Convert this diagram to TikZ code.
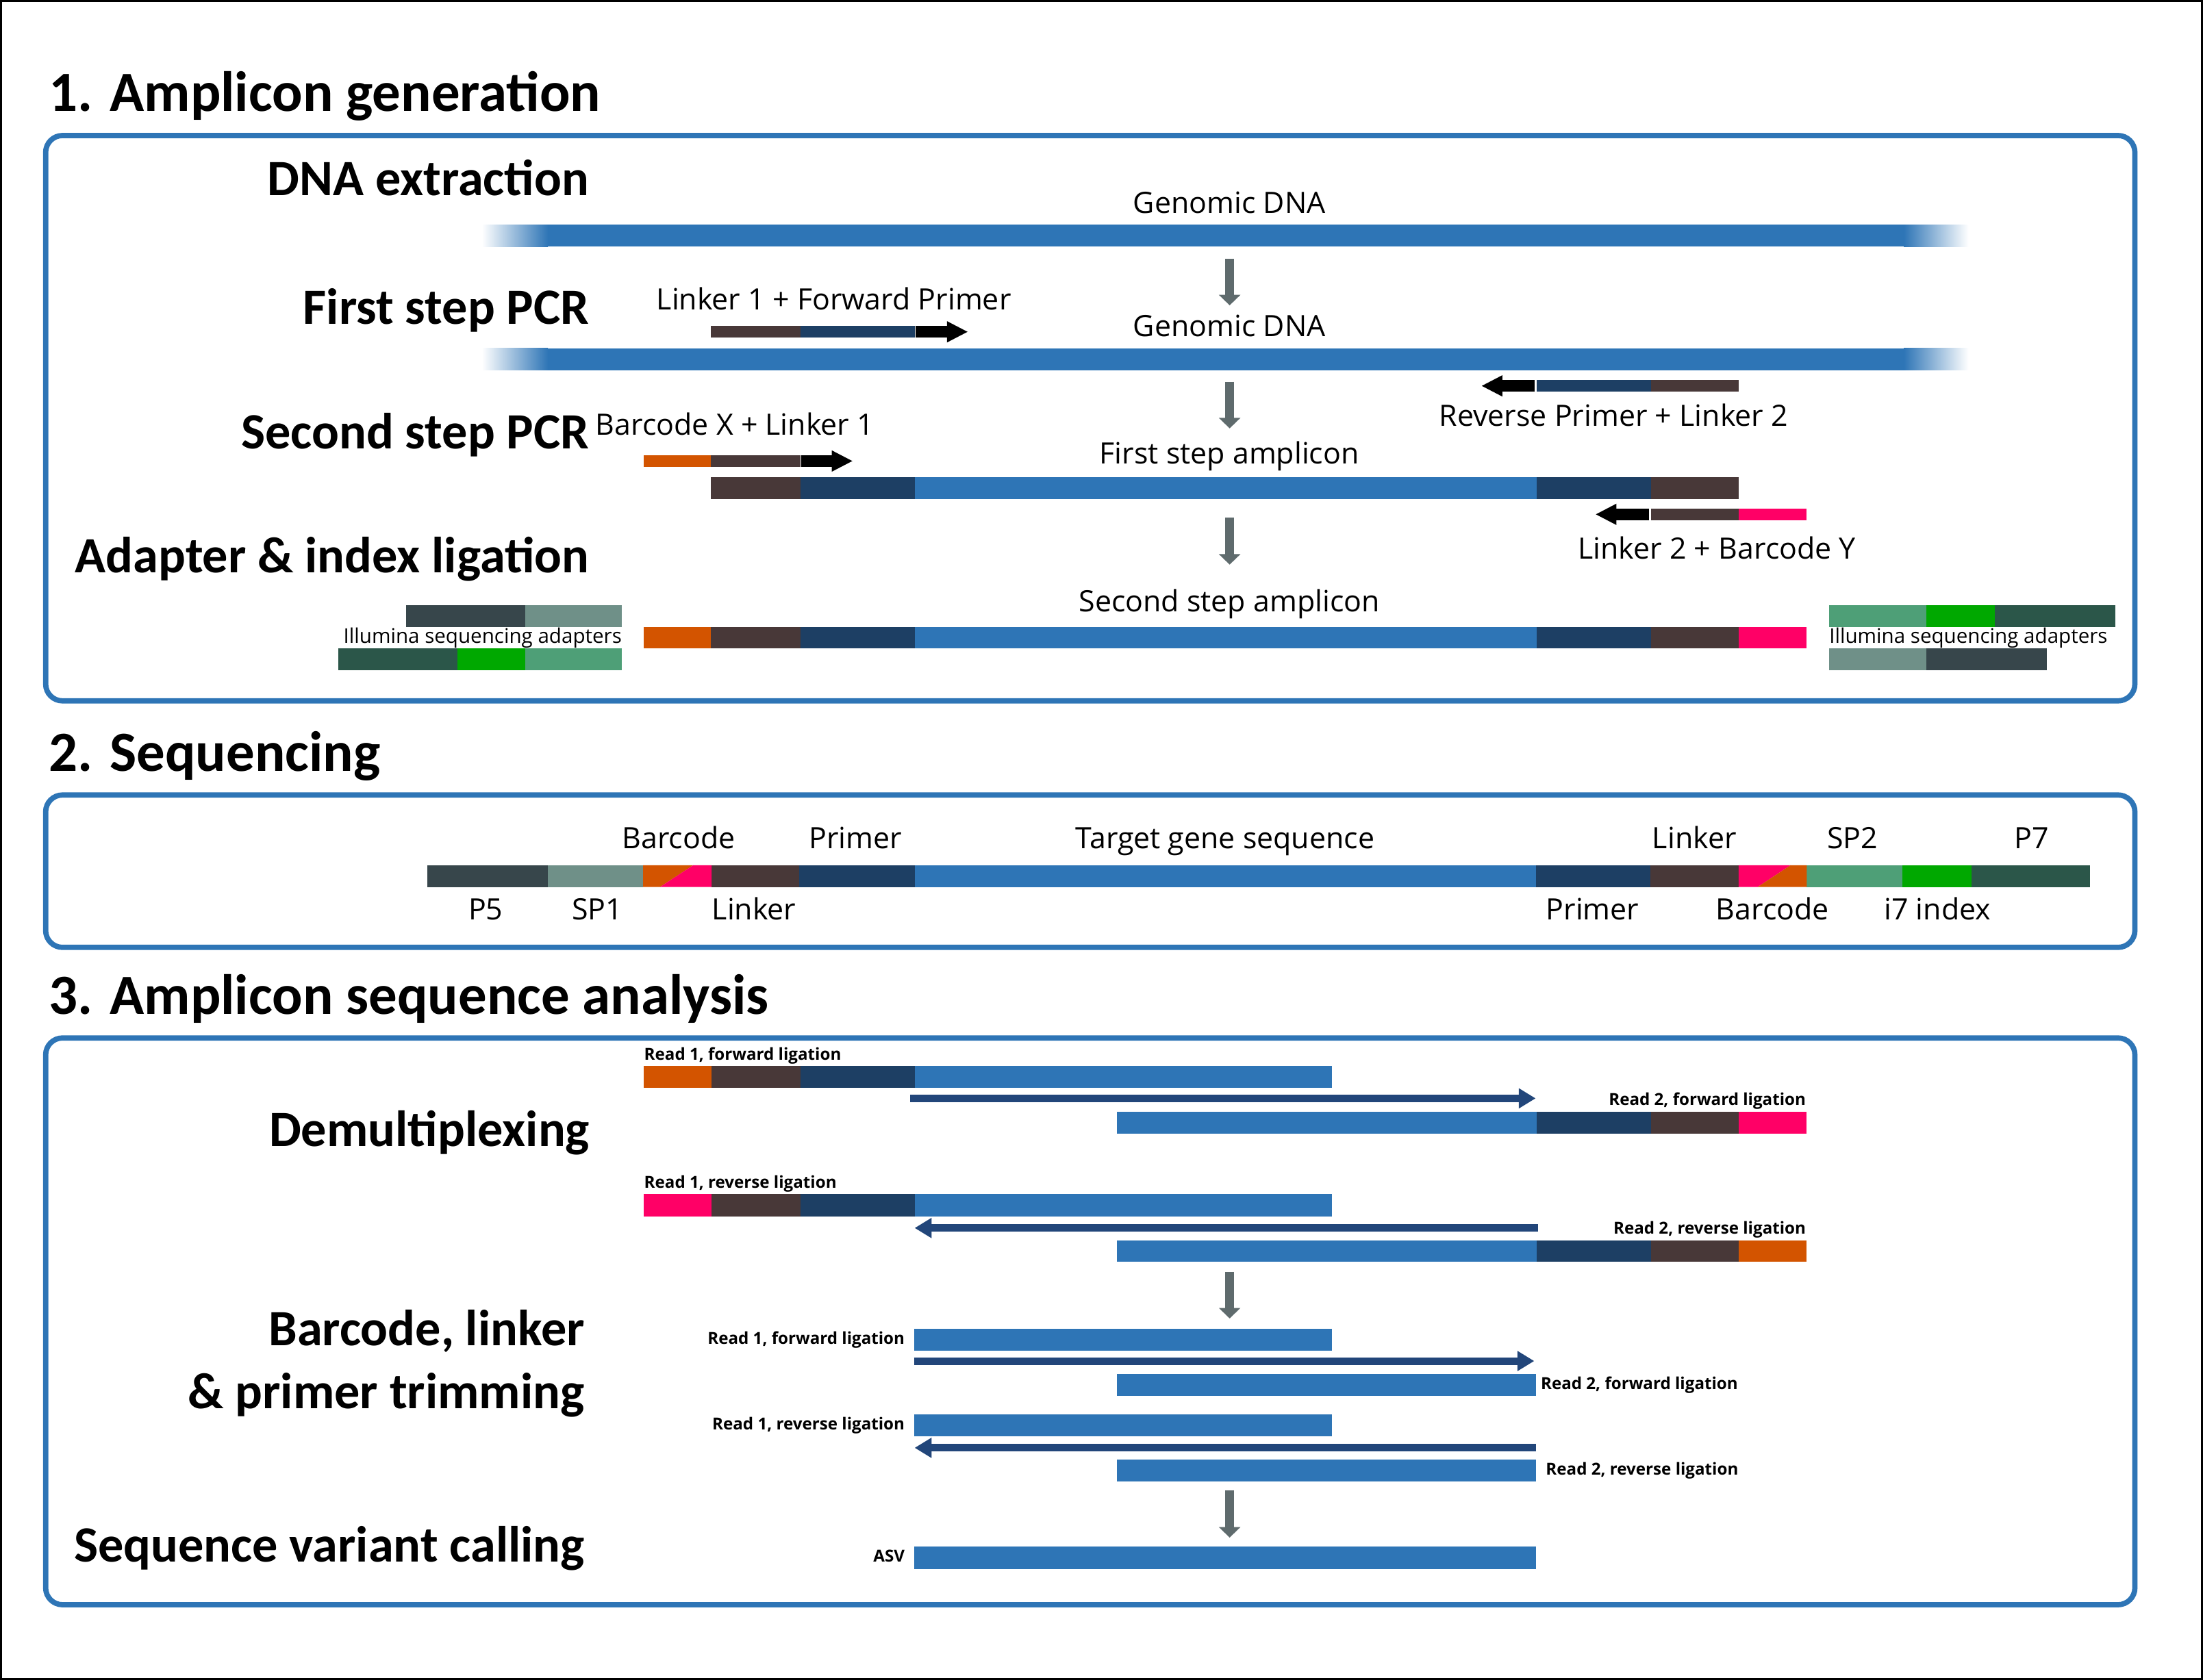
\documentclass[tikz,border=0pt]{standalone}
\usepackage{fontspec}
\setmainfont{Open Sans}
\newfontfamily\headfont{Carlito}
\usepackage{xcolor}
\usepackage{tikz}
\usetikzlibrary{arrows.meta,positioning,calc}

\definecolor{dnablue}{HTML}{2E75B6}
\definecolor{primernavy}{HTML}{1D3F64}
\definecolor{linkerbrown}{HTML}{483838}
\definecolor{bcxorange}{HTML}{D35400}
\definecolor{bcypink}{HTML}{FF0066}
\definecolor{p5slate}{HTML}{37464B}
\definecolor{sp1gray}{HTML}{6F9088}
\definecolor{p7green}{HTML}{2B5649}
\definecolor{i7green}{HTML}{00A800}
\definecolor{sp2green}{HTML}{4E9F77}
\definecolor{readnavy}{HTML}{22467A}
\definecolor{flowgray}{HTML}{5F6B6D}

\begin{document}
\begin{tikzpicture}[x=1cm, y=-1cm,
        % text styles
        section/.style={font=\headfont\bfseries\fontsize{11.5}{13}\selectfont, anchor=base west, inner sep=0pt},
        stage/.style={font=\headfont\bfseries\fontsize{10.3}{12}\selectfont, anchor=base east, inner sep=0pt},
        txt/.style={font=\fontsize{5.95}{7}\selectfont, anchor=base, inner sep=0pt},
        smalltxt/.style={font=\fontsize{4.1}{5}\selectfont, anchor=base, inner sep=0pt},
        readtxt/.style={font=\bfseries\fontsize{3.35}{4}\selectfont, inner sep=0pt},
        % frames and arrows
        panel/.style={draw=dnablue, line width=1.07pt, rounded corners=0.12cm},
        flow/.style={draw=flowgray, line width=0.065cm, -{Triangle[width=0.15cm,length=0.075cm]}},
        primer/.style={draw=black, line width=0.085cm, -{Triangle[width=0.14cm,length=0.15cm]}},
        readarrow/.style={draw=readnavy, line width=0.054cm, -{Triangle[width=0.136cm,length=0.12cm]}}
      ]

      % Page and outer frame
      \fill[white] (0,0) rectangle (15.68,11.96);
      \useasboundingbox (0,0) rectangle (15.68,11.96);
      \draw[black, line width=0.015cm] (0.0075,0.0075) rectangle (15.6725,11.9525);

      % Section titles and panels
      \node[section] (sec1) at (0.34,0.794) {1. Amplicon generation};
      \node[section] (sec2) at (0.34,5.49) {2. Sequencing};
      \node[section] (sec3) at (0.34,7.22) {3. Amplicon sequence analysis};
      \draw[panel] (0.325,0.965) rectangle (15.195,4.99);
      \draw[panel] (0.325,5.66) rectangle (15.195,6.745);
      \draw[panel] (0.325,7.39) rectangle (15.195,11.425);

      % Stage titles on the left
      \node[stage] (dnaext) at (4.20,1.39) {DNA extraction};
      \node[stage] (pcr1) at (4.20,2.307) {First step PCR};
      \node[stage] (pcr2) at (4.20,3.195) {Second step PCR};
      \node[stage] (ligation) at (4.20,4.075) {Adapter \& index ligation};
      \node[stage] (demux) at (4.204,8.16) {Demultiplexing};
      \node[stage] (trimA) at (4.168,9.58) {Barcode, linker};
      \node[stage] (trimB) at (4.168,10.03) {\& primer trimming};
      \node[stage] (asvcall) at (4.168,11.12) {Sequence variant calling};

      % Genomic DNA with faded ends
      \foreach \y in {1.60,2.48} {
        \shade[left color=white, right color=dnablue] (3.43,\y) rectangle (3.90,\y+0.155);
        \fill[dnablue] (3.90,\y) rectangle (13.55,\y+0.155);
        \shade[left color=dnablue, right color=white] (13.55,\y) rectangle (14.01,\y+0.155);
      }
      \node[txt] (gdna1) at (8.75,1.516) {Genomic DNA};
      \node[txt] (gdna2) at (8.75,2.398) {Genomic DNA};

      % First step primers
      \node[txt] (fwdlbl) at (5.935,2.206) {Linker 1 + Forward Primer};
      \foreach \col/\a/\b in {linkerbrown/5.06/5.70, primernavy/5.70/6.51}
        \fill[\col] (\a,2.32) rectangle (\b,2.405);
      \coordinate (fwdtail) at (6.515,2.3625);
      \coordinate (fwdtip) at (6.89,2.3625);
      \draw[primer] (fwdtail) -- (fwdtip);

      \foreach \col/\a/\b in {primernavy/10.935/11.75, linkerbrown/11.75/12.375}
        \fill[\col] (\a,2.706) rectangle (\b,2.789);
      \coordinate (revtail) at (10.925,2.7475);
      \coordinate (revtip) at (10.543,2.7475);
      \draw[primer] (revtail) -- (revtip);
      \node[txt] (revlbl) at (11.485,3.033) {Reverse Primer + Linker 2};

      % Second step primers and first amplicon
      \node[txt] (bcxlbl) at (5.23,3.10) {Barcode X + Linker 1};
      \foreach \col/\a/\b in {bcxorange/4.58/5.06, linkerbrown/5.06/5.70}
        \fill[\col] (\a,3.24) rectangle (\b,3.325);
      \coordinate (bcxtail) at (5.705,3.2825);
      \coordinate (bcxtip) at (6.07,3.2825);
      \draw[primer] (bcxtail) -- (bcxtip);

      \node[txt] (amp1lbl) at (8.75,3.30) {First step amplicon};
      \foreach \col/\a/\b in {linkerbrown/5.06/5.70, primernavy/5.70/6.51, dnablue/6.51/10.935,
                              primernavy/10.935/11.75, linkerbrown/11.75/12.375}
        \fill[\col] (\a,3.396) rectangle (\b,3.554);

      \foreach \col/\a/\b in {linkerbrown/11.75/12.375, bcypink/12.375/12.86}
        \fill[\col] (\a,3.62) rectangle (\b,3.704);
      \coordinate (bcytail) at (11.735,3.662);
      \coordinate (bcytip) at (11.355,3.662);
      \draw[primer] (bcytail) -- (bcytip);
      \node[txt] (bcylbl) at (12.22,3.98) {Linker 2 + Barcode Y};

      % Second amplicon with adapters
      \node[txt] (amp2lbl) at (8.75,4.357) {Second step amplicon};
      \foreach \col/\a/\b in {bcxorange/4.58/5.06, linkerbrown/5.06/5.70, primernavy/5.70/6.51,
                              dnablue/6.51/10.935, primernavy/10.935/11.75, linkerbrown/11.75/12.375,
                              bcypink/12.375/12.86}
        \fill[\col] (\a,4.465) rectangle (\b,4.616);

      \foreach \col/\a/\b in {p5slate/2.89/3.74, sp1gray/3.74/4.426}
        \fill[\col] (\a,4.31) rectangle (\b,4.465);
      \foreach \col/\a/\b in {p7green/2.41/3.256, i7green/3.256/3.74, sp2green/3.74/4.426}
        \fill[\col] (\a,4.616) rectangle (\b,4.77);
      \node[smalltxt] (adaptL) at (3.435,4.578) {Illumina sequencing adapters};

      \foreach \col/\a/\b in {sp2green/13.02/13.71, i7green/13.71/14.20, p7green/14.20/15.056}
        \fill[\col] (\a,4.31) rectangle (\b,4.465);
      \foreach \col/\a/\b in {sp1gray/13.02/13.71, p5slate/13.71/14.57}
        \fill[\col] (\a,4.616) rectangle (\b,4.77);
      \node[smalltxt] (adaptR) at (14.01,4.578) {Illumina sequencing adapters};

      % Flow arrows between steps
      \foreach \i/\ya/\yb in {1/1.843/2.174, 2/2.718/3.05, 3/3.685/4.02, 4/9.056/9.387, 5/10.61/10.947} {
        \coordinate (flow\i top) at (8.752,\ya);
        \coordinate (flow\i tip) at (8.752,\yb);
        \draw[flow] (flow\i top) -- (flow\i tip);
      }

      % Sequenced construct
      \foreach \col/\a/\b in {p5slate/3.04/3.90, sp1gray/3.90/4.577, linkerbrown/5.065/5.69,
                              primernavy/5.69/6.51, dnablue/6.51/10.93, primernavy/10.93/11.746,
                              linkerbrown/11.746/12.375, sp2green/12.86/13.54, i7green/13.54/14.03,
                              p7green/14.03/14.876}
        \fill[\col] (\a,6.16) rectangle (\b,6.315);
      \fill[bcxorange] (4.577,6.16) -- (4.934,6.16) -- (4.698,6.315) -- (4.577,6.315) -- cycle;
      \fill[bcypink] (4.934,6.16) -- (5.065,6.16) -- (5.065,6.315) -- (4.698,6.315) -- cycle;
      \fill[bcypink] (12.375,6.16) -- (12.745,6.16) -- (12.51,6.315) -- (12.375,6.315) -- cycle;
      \fill[bcxorange] (12.745,6.16) -- (12.86,6.16) -- (12.86,6.315) -- (12.51,6.315) -- cycle;

      \foreach \name/\x/\t in {bcup/4.83/Barcode, prup/6.09/Primer, target/8.72/Target gene sequence,
                               lkup/12.06/Linker, sp2/13.185/SP2, p7/14.46/P7}
        \node[txt] (\name) at (\x,6.04) {\t};
      \foreach \name/\x/\t in {p5/3.457/P5, sp1/4.25/SP1, lkdn/5.367/Linker,
                               prdn/11.335/Primer, bcdn/12.615/Barcode, i7/13.79/i7 index}
        \node[txt] (\name) at (\x,6.55) {\t};

      % Demultiplexing reads
      \node[readtxt, anchor=base west] (r1f) at (4.578,7.546) {Read 1, forward ligation};
      \foreach \col/\a/\b in {bcxorange/4.58/5.065, linkerbrown/5.065/5.70, primernavy/5.70/6.51, dnablue/6.51/9.48}
        \fill[\col] (\a,7.59) rectangle (\b,7.745);
      \coordinate (dmx1a) at (6.48,7.82);
      \coordinate (dmx1b) at (10.93,7.82);
      \draw[readarrow] (dmx1a) -- (dmx1b);
      \node[readtxt, anchor=base east] (r2f) at (12.86,7.87) {Read 2, forward ligation};
      \foreach \col/\a/\b in {dnablue/7.95/10.935, primernavy/10.935/11.75, linkerbrown/11.75/12.375, bcypink/12.375/12.86}
        \fill[\col] (\a,7.915) rectangle (\b,8.07);

      \node[readtxt, anchor=base west] (r1r) at (4.578,8.46) {Read 1, reverse ligation};
      \foreach \col/\a/\b in {bcypink/4.58/5.065, linkerbrown/5.065/5.70, primernavy/5.70/6.51, dnablue/6.51/9.48}
        \fill[\col] (\a,8.50) rectangle (\b,8.66);
      \coordinate (dmx2a) at (10.947,8.743);
      \coordinate (dmx2b) at (6.51,8.743);
      \draw[readarrow] (dmx2a) -- (dmx2b);
      \node[readtxt, anchor=base east] (r2r) at (12.86,8.786) {Read 2, reverse ligation};
      \foreach \col/\a/\b in {dnablue/7.95/10.935, primernavy/10.935/11.75, linkerbrown/11.75/12.375, bcxorange/12.375/12.86}
        \fill[\col] (\a,8.83) rectangle (\b,8.985);

      % Trimmed reads
      \node[readtxt, anchor=base east] (t1f) at (6.446,9.57) {Read 1, forward ligation};
      \fill[dnablue] (6.505,9.46) rectangle (9.48,9.616);
      \coordinate (trm1a) at (6.505,9.69);
      \coordinate (trm1b) at (10.92,9.69);
      \draw[readarrow] (trm1a) -- (trm1b);
      \fill[dnablue] (7.95,9.78) rectangle (10.93,9.94);
      \node[readtxt, anchor=base west] (t2f) at (10.96,9.894) {Read 2, forward ligation};

      \node[readtxt, anchor=base east] (t1r) at (6.446,10.18) {Read 1, reverse ligation};
      \fill[dnablue] (6.505,10.068) rectangle (9.48,10.226);
      \coordinate (trm2a) at (10.93,10.308);
      \coordinate (trm2b) at (6.51,10.308);
      \draw[readarrow] (trm2a) -- (trm2b);
      \fill[dnablue] (7.95,10.39) rectangle (10.93,10.548);
      \node[readtxt, anchor=base west] (t2r) at (10.996,10.50) {Read 2, reverse ligation};

      % Amplicon sequence variant
      \node[readtxt, anchor=base east] (asv) at (6.446,11.12) {ASV};
      \fill[dnablue] (6.505,11.01) rectangle (10.93,11.17);

    \end{tikzpicture}
\end{document}
